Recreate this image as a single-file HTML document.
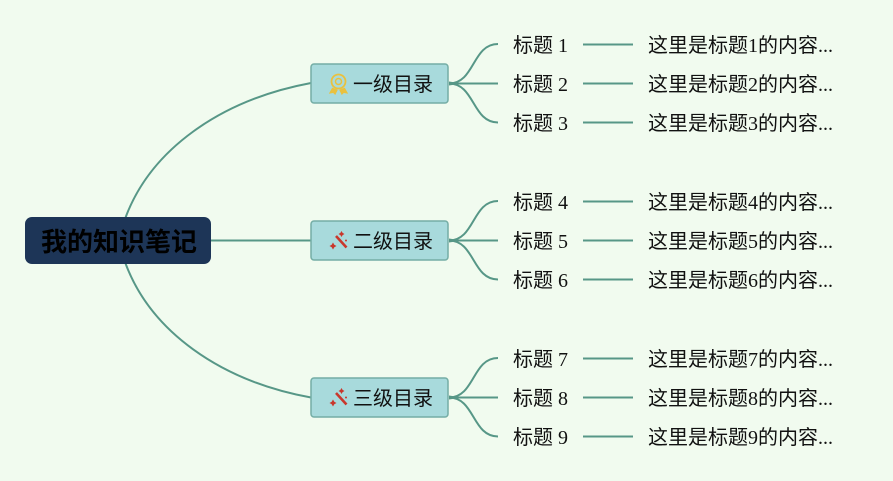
<!DOCTYPE html>
<html lang="zh">
<head>
<meta charset="utf-8">
<style>
html,body{margin:0;padding:0;background:#f1fbef;width:893px;height:481px;overflow:hidden}
svg{display:block}
text{font-family:"Liberation Serif","Noto Sans CJK SC",serif;font-size:20px;fill:#111}
.l{fill:none;stroke:#579787;stroke-width:2}
.box{fill:#a8dadc;stroke:#74ada5;stroke-width:1.5}
</style>
</head>
<body>
<svg width="893" height="481" viewBox="0 0 893 481" xmlns="http://www.w3.org/2000/svg">
<rect width="893" height="481" fill="#f1fbef"/>

<!-- root connectors -->
<path class="l" d="M125 219C150 150 220 100 311 83"/>
<path class="l" d="M211 240.500H311"/>
<path class="l" d="M125 262C150 331 220 381 311 397.500"/>

<!-- branch 1 -->
<path class="l" d="M449 83.500C475 83.500 472 44 498 44"/>
<path class="l" d="M449 83.500H498"/>
<path class="l" d="M449 83.500C475 83.500 472 122.500 498 122.500"/>
<path class="l" d="M583 44.500H633M583 83.500H633M583 122.500H633"/>
<path d="M449 81.500L462 83.500L449 85.500Z" fill="#579787"/>
<!-- branch 2 -->
<path class="l" d="M449 240.500C475 240.500 472 201 498 201"/>
<path class="l" d="M449 240.500H498"/>
<path class="l" d="M449 240.500C475 240.500 472 279.500 498 279.500"/>
<path class="l" d="M583 201.500H633M583 240.500H633M583 279.500H633"/>
<path d="M449 238.500L462 240.500L449 242.500Z" fill="#579787"/>
<!-- branch 3 -->
<path class="l" d="M449 397.500C475 397.500 472 358 498 358"/>
<path class="l" d="M449 397.500H498"/>
<path class="l" d="M449 397.500C475 397.500 472 436.500 498 436.500"/>
<path class="l" d="M583 358.500H633M583 397.500H633M583 436.500H633"/>
<path d="M449 395.500L462 397.500L449 399.500Z" fill="#579787"/>

<!-- root -->
<rect x="25" y="217" width="186" height="47" rx="7" fill="#1d3557"/>
<text x="41" y="251" style="font-size:26px;font-weight:bold;fill:#000">我的知识笔记</text>

<!-- level 1 boxes -->
<rect class="box" x="311" y="64" width="137" height="39" rx="3"/>
<rect class="box" x="311" y="221" width="137" height="39" rx="3"/>
<rect class="box" x="311" y="378" width="137" height="39" rx="3"/>
<text x="353" y="91">一级目录</text>
<text x="353" y="248">二级目录</text>
<text x="353" y="405">三级目录</text>

<!-- medal icon -->
<g fill="none" stroke="#e9c13f">
<circle cx="338.500" cy="81.500" r="7" stroke-width="1.800"/>
<circle cx="338.500" cy="81.500" r="3" stroke-width="1.500"/>
<path d="M333 88l-2.500 4.500 3-.5 1.500 1.500 2-4M344 88l2.500 4.500-3-.5-1.500 1.500-2-4" stroke-width="1.800" fill="#e9c13f"/>
</g>
<!-- wand icons -->
<g fill="#c9372c">
<path d="M336 236L346.500 247.500" stroke="#c9372c" stroke-width="2.600" fill="none"/>
<path d="M341.500 231l1.100 1.900 1.900 1.100-1.900 1.100-1.100 1.900-1.100-1.900-1.900-1.100 1.900-1.100z"/>
<path d="M333 242.500l1.300 2.200 2.200 1.300-2.200 1.300-1.300 2.200-1.300-2.200-2.200-1.300 2.200-1.300z"/>
<circle cx="346" cy="240.500" r="1"/>
</g>
<g fill="#c9372c">
<path d="M336 393L346.500 404.500" stroke="#c9372c" stroke-width="2.600" fill="none"/>
<path d="M341.500 388l1.100 1.900 1.900 1.100-1.900 1.100-1.100 1.900-1.100-1.900-1.900-1.100 1.900-1.100z"/>
<path d="M333 399.500l1.300 2.200 2.200 1.300-2.200 1.300-1.300 2.200-1.300-2.200-2.200-1.300 2.200-1.300z"/>
<circle cx="346" cy="397.500" r="1"/>
</g>

<!-- titles -->
<text x="513" y="52">标题 1</text>
<text x="513" y="91">标题 2</text>
<text x="513" y="130">标题 3</text>
<text x="513" y="209">标题 4</text>
<text x="513" y="248">标题 5</text>
<text x="513" y="287">标题 6</text>
<text x="513" y="366">标题 7</text>
<text x="513" y="405">标题 8</text>
<text x="513" y="444">标题 9</text>

<!-- contents -->
<text x="648" y="52">这里是标题1的内容...</text>
<text x="648" y="91">这里是标题2的内容...</text>
<text x="648" y="130">这里是标题3的内容...</text>
<text x="648" y="209">这里是标题4的内容...</text>
<text x="648" y="248">这里是标题5的内容...</text>
<text x="648" y="287">这里是标题6的内容...</text>
<text x="648" y="366">这里是标题7的内容...</text>
<text x="648" y="405">这里是标题8的内容...</text>
<text x="648" y="444">这里是标题9的内容...</text>
</svg>
</body>
</html>
